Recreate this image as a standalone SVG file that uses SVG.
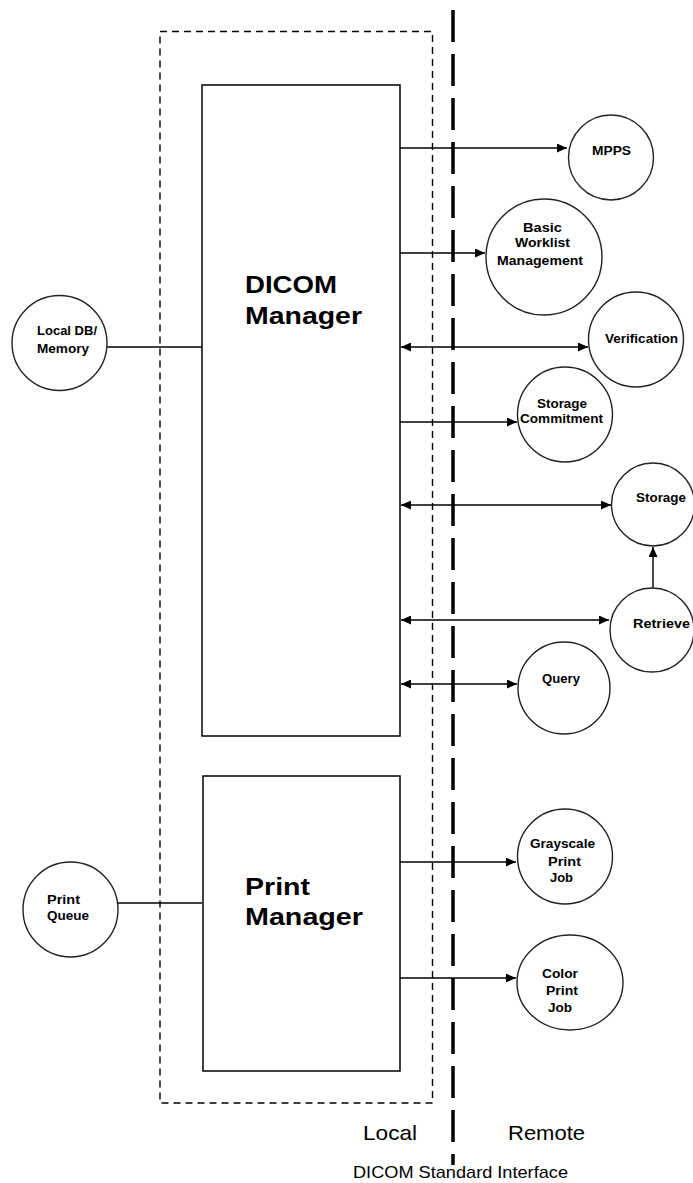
<svg xmlns="http://www.w3.org/2000/svg" width="693" height="1183" viewBox="0 0 693 1183">
<style>
.box{fill:none;stroke:#000;stroke-width:1.5}
.circ{fill:#fff;stroke:#222;stroke-width:1.4}
.ln{fill:none;stroke:#000;stroke-width:1.4}
.lbl{font-family:"Liberation Sans",Arial,sans-serif;font-weight:bold;font-size:12px;fill:#000}
.big{font-family:"Liberation Sans",Arial,sans-serif;font-weight:bold;font-size:24px;fill:#000}
.reg{font-family:"Liberation Sans",Arial,sans-serif;font-size:21px;fill:#000}
</style>
<defs>
<marker id="ah" markerUnits="userSpaceOnUse" markerWidth="11" markerHeight="9" refX="10" refY="4.5" orient="auto-start-reverse">
<path d="M0,0 L10,4.5 L0,9 Z" fill="#000"/>
</marker>
</defs>
<rect width="693" height="1183" fill="#fff"/>
<g id="local-boundary">
<rect x="160" y="31.5" width="272.5" height="1071.5" fill="none" stroke="#000" stroke-width="1.4" stroke-dasharray="7,5"/>
</g>
<g id="interface-line">
<line x1="453" y1="10" x2="453" y2="1165" stroke="#000" stroke-width="3.5" stroke-dasharray="32,12"/>
</g>
<g id="connectors">
<line class="ln" x1="107" y1="347" x2="202" y2="347"/>
<line class="ln" x1="118" y1="903" x2="202" y2="903"/>
<line class="ln" x1="400" y1="148" x2="567" y2="148" marker-end="url(#ah)"/>
<line class="ln" x1="400" y1="253" x2="485" y2="253" marker-end="url(#ah)"/>
<line class="ln" x1="401" y1="347" x2="588" y2="347" marker-start="url(#ah)" marker-end="url(#ah)"/>
<line class="ln" x1="400" y1="422" x2="517" y2="422" marker-end="url(#ah)"/>
<line class="ln" x1="401" y1="505" x2="611" y2="505" marker-start="url(#ah)" marker-end="url(#ah)"/>
<line class="ln" x1="401" y1="620" x2="609" y2="620" marker-start="url(#ah)" marker-end="url(#ah)"/>
<line class="ln" x1="401" y1="684" x2="517" y2="684" marker-start="url(#ah)" marker-end="url(#ah)"/>
<line class="ln" x1="400" y1="862" x2="516" y2="862" marker-end="url(#ah)"/>
<line class="ln" x1="400" y1="978" x2="516" y2="978" marker-end="url(#ah)"/>
<line class="ln" x1="653" y1="588" x2="653" y2="547" marker-end="url(#ah)"/>
</g>
<g id="dicom-manager">
<rect class="box" x="202" y="85" width="198" height="651"/>
<text class="big" x="245" y="293" textLength="92" lengthAdjust="spacingAndGlyphs">DICOM</text>
<text class="big" x="245" y="324" textLength="117" lengthAdjust="spacingAndGlyphs">Manager</text>
</g>
<g id="print-manager">
<rect class="box" x="203" y="776" width="197" height="295"/>
<text class="big" x="245" y="895" textLength="65" lengthAdjust="spacingAndGlyphs">Print</text>
<text class="big" x="245" y="925" textLength="118" lengthAdjust="spacingAndGlyphs">Manager</text>
</g>
<g id="local-db">
<circle class="circ" cx="59.5" cy="343" r="47.5"/>
<text class="lbl" x="37" y="335" textLength="60" lengthAdjust="spacingAndGlyphs">Local DB/</text>
<text class="lbl" x="37" y="353" textLength="52" lengthAdjust="spacingAndGlyphs">Memory</text>
</g>
<g id="print-queue">
<circle class="circ" cx="70.5" cy="909.5" r="47.5"/>
<text class="lbl" x="47" y="904" textLength="33" lengthAdjust="spacingAndGlyphs">Print</text>
<text class="lbl" x="47" y="920" textLength="42" lengthAdjust="spacingAndGlyphs">Queue</text>
</g>
<g id="mpps">
<circle class="circ" cx="611" cy="157.5" r="42.5"/>
<text class="lbl" x="592" y="155" textLength="39" lengthAdjust="spacingAndGlyphs">MPPS</text>
</g>
<g id="basic-worklist">
<circle class="circ" cx="544" cy="257" r="58"/>
<text class="lbl" x="523" y="232" textLength="39" lengthAdjust="spacingAndGlyphs">Basic</text>
<text class="lbl" x="515" y="247" textLength="55" lengthAdjust="spacingAndGlyphs">Worklist</text>
<text class="lbl" x="497" y="265" textLength="86" lengthAdjust="spacingAndGlyphs">Management</text>
</g>
<g id="verification">
<circle class="circ" cx="636" cy="339.5" r="47.5"/>
<text class="lbl" x="605" y="343" textLength="73" lengthAdjust="spacingAndGlyphs">Verification</text>
</g>
<g id="storage-commitment">
<circle class="circ" cx="565" cy="414.5" r="47.5"/>
<text class="lbl" x="537" y="408" textLength="50" lengthAdjust="spacingAndGlyphs">Storage</text>
<text class="lbl" x="520" y="423" textLength="83" lengthAdjust="spacingAndGlyphs">Commitment</text>
</g>
<g id="storage">
<circle class="circ" cx="653" cy="504.5" r="41.5"/>
<text class="lbl" x="636" y="502" textLength="50" lengthAdjust="spacingAndGlyphs">Storage</text>
</g>
<g id="retrieve">
<circle class="circ" cx="652" cy="630" r="42"/>
<text class="lbl" x="633" y="628" textLength="57" lengthAdjust="spacingAndGlyphs">Retrieve</text>
</g>
<g id="query">
<circle class="circ" cx="564" cy="688" r="46"/>
<text class="lbl" x="542" y="683" textLength="38" lengthAdjust="spacingAndGlyphs">Query</text>
</g>
<g id="grayscale-print-job">
<circle class="circ" cx="565" cy="856.5" r="47.5"/>
<text class="lbl" x="530" y="848" textLength="65" lengthAdjust="spacingAndGlyphs">Grayscale</text>
<text class="lbl" x="548" y="866" textLength="33" lengthAdjust="spacingAndGlyphs">Print</text>
<text class="lbl" x="550" y="882" textLength="23" lengthAdjust="spacingAndGlyphs">Job</text>
</g>
<g id="color-print-job">
<ellipse class="circ" cx="570" cy="982.5" rx="53" ry="47.5"/>
<text class="lbl" x="542" y="978" textLength="36" lengthAdjust="spacingAndGlyphs">Color</text>
<text class="lbl" x="546" y="995" textLength="32" lengthAdjust="spacingAndGlyphs">Print</text>
<text class="lbl" x="548" y="1012" textLength="24" lengthAdjust="spacingAndGlyphs">Job</text>
</g>
<g id="labels">
<text class="reg" x="363" y="1140" textLength="54" lengthAdjust="spacingAndGlyphs">Local</text>
<text class="reg" x="508" y="1140" textLength="77" lengthAdjust="spacingAndGlyphs">Remote</text>
<text class="reg" x="353" y="1178" style="font-size:17px" textLength="215" lengthAdjust="spacingAndGlyphs">DICOM Standard Interface</text>
</g>
</svg>
